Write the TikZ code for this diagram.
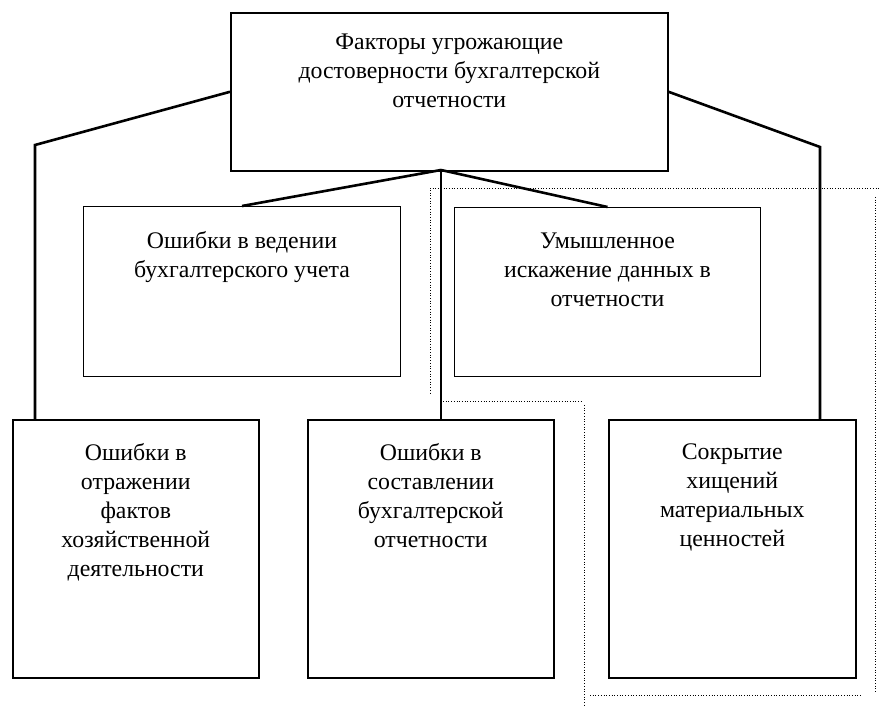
\documentclass[tikz,border=0pt]{standalone}
\usepackage{fontspec}
\setmainfont{Liberation Serif}
\usepackage{tikz}
\usetikzlibrary{positioning}

\tikzset{
  box/.style={draw, line width=1.6pt, anchor=north west, inner sep=0pt,
    font=\fontsize{23.8}{29}\selectfont},
  thinbox/.style={box, line width=1pt},
  link/.style={line width=2.6pt},
  frame/.style={dotted, line width=0.7pt}
}
\newcommand{\boxtext}[4]{\parbox[t][#2][t]{#1}{\centering\rule{0pt}{#3}#4}}

\begin{document}
\begin{tikzpicture}[x=1pt,y=-1pt]
  \useasboundingbox (0,0) rectangle (879,706);
  % dotted frame
  \draw[frame] (430,188) -- (879,188);
  \draw[frame] (430,190) -- (430,395);
  \draw[frame] (443,401) -- (582,401);
  \draw[frame] (584,405) -- (584,706);
  \draw[frame] (590,695) -- (862,695);
  \draw[frame] (875,197) -- (875,693);
  % boxes
  \node[box] (top) at (230,12)
    {\boxtext{437pt}{158pt}{37pt}{Факторы угрожающие\\ достоверности бухгалтерской\\ отчетности}};
  \node[thinbox] (ved) at (83,206)
    {\boxtext{317pt}{170pt}{42pt}{Ошибки в ведении\\ бухгалтерского учета}};
  \node[thinbox] (umy) at (454,207)
    {\boxtext{306pt}{169pt}{41pt}{Умышленное\\ искажение данных в\\ отчетности}};
  \node[box] (otr) at (12,419)
    {\boxtext{246pt}{258pt}{41pt}{Ошибки в\\ отражении\\ фактов\\ хозяйственной\\ деятельности}};
  \node[box] (sost) at (307,419)
    {\boxtext{246pt}{258pt}{41pt}{Ошибки в\\ составлении\\ бухгалтерской\\ отчетности}};
  \node[box] (skr) at (608,419)
    {\boxtext{247pt}{258pt}{40pt}{Сокрытие\\ хищений\\ материальных\\ ценностей}};
  % connectors
  \coordinate (lk) at (35,145);
  \coordinate (rk) at (820,147);
  \coordinate (hub) at (441,170);
  \draw[link] (top.west) -- (lk) -- (lk |- otr.north);
  \draw[link] (top.east) -- (rk) -- (rk |- skr.north);
  \draw[link] (hub) -- (ved.north);
  \draw[link] (hub) -- (umy.north);
  \draw[link] (hub) -- (hub |- sost.north);
\end{tikzpicture}
\end{document}
